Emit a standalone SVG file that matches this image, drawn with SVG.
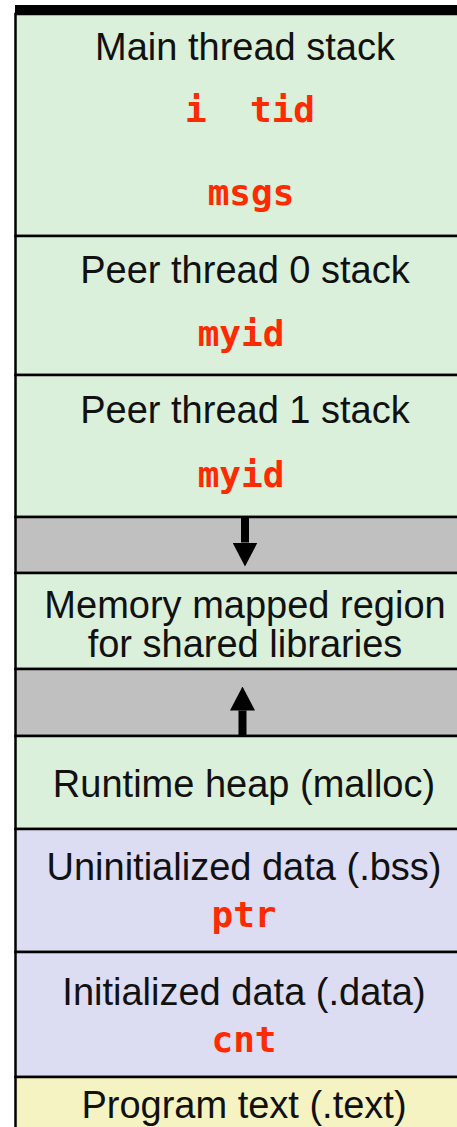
<svg xmlns="http://www.w3.org/2000/svg" width="457" height="1127" viewBox="0 0 457 1127">
<style>
.box{stroke:#000;stroke-width:2.5}
.green{fill:#daf0da}
.gray{fill:#c0c0c0}
.lav{fill:#dcdcf2}
.yel{fill:#f5f3c2}
.lbl{font-family:"Liberation Sans",Arial,sans-serif;font-size:38px;fill:#111;text-anchor:middle}
.var{font-family:"DejaVu Sans Mono","Liberation Mono",monospace;font-weight:bold;font-size:36px;fill:#ff2a00;text-anchor:middle;white-space:pre}
.conn{stroke:#000;stroke-width:8;fill:none}
</style>
<defs>
<marker id="ah" viewBox="0 0 24 25" refX="0" refY="12.5" markerWidth="24" markerHeight="25" markerUnits="userSpaceOnUse" orient="auto">
<path d="M0,0 L24,12.5 L0,25 z" fill="#000"/>
</marker>
</defs>
<rect x="0" y="0" width="457" height="1127" fill="#fff"/>
<g id="main-stack">
<rect class="box green" x="15.5" y="14" width="460" height="222"/>
<text class="lbl" x="245" y="60">Main thread stack</text>
<text class="var" x="250" y="122" xml:space="preserve">i  tid</text>
<text class="var" x="251" y="205">msgs</text>
</g>
<g id="peer0-stack">
<rect class="box green" x="15.5" y="236" width="460" height="139"/>
<text class="lbl" x="245" y="283">Peer thread 0 stack</text>
<text class="var" x="241" y="346">myid</text>
</g>
<g id="peer1-stack">
<rect class="box green" x="15.5" y="375" width="460" height="142"/>
<text class="lbl" x="245" y="423">Peer thread 1 stack</text>
<text class="var" x="241" y="487">myid</text>
</g>
<g id="gap1">
<rect class="box gray" x="15.5" y="517" width="460" height="56"/>
</g>
<g id="mmap">
<rect class="box green" x="15.5" y="573" width="460" height="96"/>
<text class="lbl" x="245" y="618">Memory mapped region</text>
<text class="lbl" x="245" y="657">for shared libraries</text>
</g>
<g id="gap2">
<rect class="box gray" x="15.5" y="669" width="460" height="67"/>
</g>
<g id="heap">
<rect class="box green" x="15.5" y="736" width="460" height="93"/>
<text class="lbl" x="244" y="797">Runtime heap (malloc)</text>
</g>
<g id="bss">
<rect class="box lav" x="15.5" y="829" width="460" height="123"/>
<text class="lbl" x="244" y="880">Uninitialized data (.bss)</text>
<text class="var" x="244" y="927">ptr</text>
</g>
<g id="data">
<rect class="box lav" x="15.5" y="952" width="460" height="125"/>
<text class="lbl" x="244" y="1005">Initialized data (.data)</text>
<text class="var" x="244" y="1052">cnt</text>
</g>
<g id="text-seg">
<rect class="box yel" x="15.5" y="1077" width="460" height="60"/>
<text class="lbl" x="244" y="1118">Program text (.text)</text>
</g>
<rect id="top-bar" x="15" y="5" width="450" height="9" fill="#000"/>
<g id="connectors">
<line class="conn" x1="245" y1="517" x2="245" y2="542.5" marker-end="url(#ah)"/>
<line class="conn" x1="242.5" y1="736" x2="242.5" y2="710.5" marker-end="url(#ah)"/>
</g>
</svg>
